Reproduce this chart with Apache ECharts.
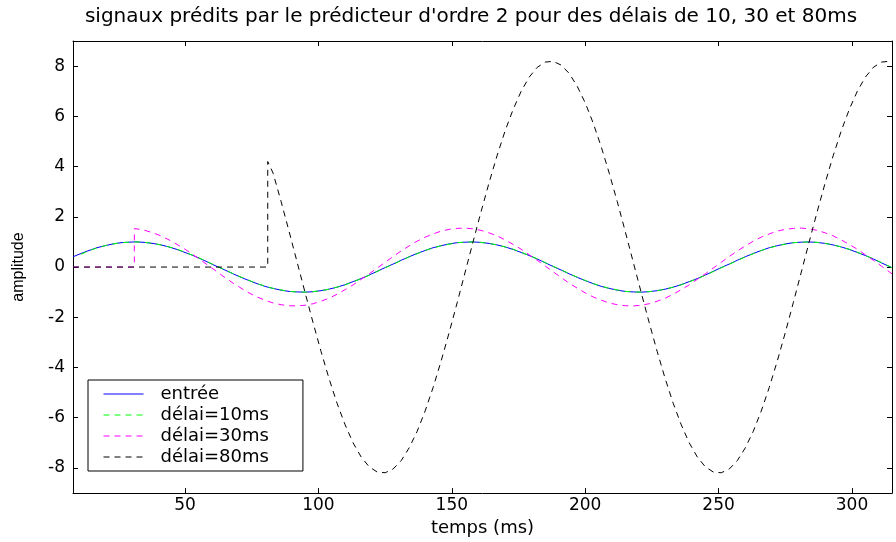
<!DOCTYPE html>
<html>
<head>
<meta charset="utf-8">
<script src="https://cdn.jsdelivr.net/npm/echarts@6/dist/echarts.min.js"></script>
<style>
html,body{margin:0;padding:0;background:#fff;}
#c{width:896px;height:542px;}
</style>
</head>
<body>
<div id="c"></div>
<script>
// ---- data ----
const titre = "signaux prédits par le prédicteur d'ordre 2 pour des délais de 10, 30 et 80ms";
const nomAxeX = 'temps (ms)';
const nomAxeY = 'amplitude';
const nomsSeries = ['entrée', 'délai=10ms', 'délai=30ms', 'délai=80ms'];

const xTicks = [50, 100, 150, 200, 250, 300];
const yTicks = [-8, -6, -4, -2, 0, 2, 4, 6, 8];

const temps = [
  8, 11, 14, 17, 20, 23, 26, 29,
  31, 31, 32,
  35, 38, 41, 44, 47, 50, 53, 56, 59, 62, 65, 68, 71, 74, 77, 80,
  81, 81,
  83, 86, 89, 92, 95, 98, 101, 104, 107, 110, 113, 116, 119, 122,
  125, 128, 131, 134, 137, 140, 143, 146, 149, 152, 155, 158,
  161, 164, 167, 170, 173, 176, 179, 182, 185, 188, 191, 194, 197, 200, 203, 206, 209, 212, 215, 218, 221,
  224, 227, 230, 233, 236, 239, 242, 245, 248, 251, 254, 257, 260, 263, 266, 269, 272, 275, 278, 281, 284,
  287, 290, 293, 296, 299, 302, 305, 308, 311, 314,
  315
];

const entree = [
  0.41, 0.54, 0.66, 0.77, 0.85, 0.92, 0.97, 0.99,
  1.00, 1.00, 1.00,
  0.98, 0.94, 0.88, 0.80, 0.70, 0.58, 0.46, 0.32, 0.17, 0.02, -0.12, -0.27, -0.41, -0.54, -0.66, -0.77,
  -0.80, -0.80,
  -0.85, -0.92, -0.97, -0.99, -1.00, -0.98, -0.94, -0.88, -0.80, -0.70, -0.58, -0.46, -0.32, -0.17,
  -0.02, 0.12, 0.27, 0.41, 0.54, 0.66, 0.77, 0.85, 0.92, 0.97, 0.99, 1.00,
  0.98, 0.94, 0.88, 0.80, 0.70, 0.58, 0.46, 0.32, 0.17, 0.02, -0.12, -0.27, -0.41, -0.54, -0.66, -0.77, -0.85, -0.92, -0.97, -0.99, -1.00,
  -0.98, -0.94, -0.88, -0.80, -0.70, -0.58, -0.46, -0.32, -0.17, -0.02, 0.12, 0.27, 0.41, 0.54, 0.66, 0.77, 0.85, 0.92, 0.97, 0.99, 1.00,
  0.98, 0.94, 0.88, 0.80, 0.70, 0.58, 0.46, 0.32, 0.17, 0.02,
  -0.02
];

const delai10 = [
  null, 0.51, 0.65, 0.76, 0.85, 0.92, 0.97, 0.99,
  1.00, 1.00, 1.00,
  0.98, 0.94, 0.88, 0.80, 0.71, 0.59, 0.46, 0.33, 0.18, 0.03, -0.11, -0.26, -0.40, -0.53, -0.66, -0.76,
  -0.79, -0.79,
  -0.85, -0.91, -0.97, -0.99, -1.00, -0.98, -0.94, -0.88, -0.80, -0.71, -0.59, -0.46, -0.33, -0.18,
  -0.03, 0.11, 0.26, 0.40, 0.53, 0.66, 0.76, 0.85, 0.91, 0.97, 0.99, 1.00,
  0.98, 0.94, 0.88, 0.80, 0.71, 0.59, 0.46, 0.33, 0.18, 0.03, -0.11, -0.26, -0.40, -0.53, -0.66, -0.76, -0.85, -0.91, -0.97, -0.99, -1.00,
  -0.98, -0.94, -0.88, -0.80, -0.71, -0.59, -0.46, -0.33, -0.18, -0.03, 0.11, 0.26, 0.40, 0.53, 0.66, 0.76, 0.85, 0.91, 0.97, 0.99, 1.00,
  0.98, 0.94, 0.88, 0.80, 0.71, 0.59, 0.46, 0.33, 0.18, 0.03,
  -0.03
];

const delai30 = [
  0, 0, 0, 0, 0, 0, 0, 0,
  0, 1.53, 1.52,
  1.46, 1.36, 1.24, 1.08, 0.90, 0.71, 0.49, 0.27, 0.04, -0.19, -0.42, -0.64, -0.84, -1.03, -1.19, -1.32,
  -1.36, -1.36,
  -1.43, -1.50, -1.54, -1.55, -1.52, -1.46, -1.36, -1.24, -1.08, -0.90, -0.71, -0.49, -0.27, -0.04,
  0.19, 0.42, 0.64, 0.84, 1.03, 1.19, 1.32, 1.43, 1.50, 1.54, 1.55, 1.52,
  1.46, 1.36, 1.24, 1.08, 0.90, 0.71, 0.49, 0.27, 0.04, -0.19, -0.42, -0.64, -0.84, -1.03, -1.19, -1.32, -1.43, -1.50, -1.54, -1.55, -1.52,
  -1.46, -1.36, -1.24, -1.08, -0.90, -0.71, -0.49, -0.27, -0.04, 0.19, 0.42, 0.64, 0.84, 1.03, 1.19, 1.32, 1.43, 1.50, 1.54, 1.55, 1.52,
  1.46, 1.36, 1.24, 1.08, 0.90, 0.71, 0.49, 0.27, 0.04, -0.19,
  -0.27
];

const delai80 = [
  0, 0, 0, 0, 0, 0, 0, 0,
  0, 0, 0,
  0, 0, 0, 0, 0, 0, 0, 0, 0, 0, 0, 0, 0, 0, 0, 0,
  0, 4.20,
  3.74, 2.61, 1.42, 0.20, -1.02, -2.22, -3.37, -4.45, -5.43, -6.28, -7.00, -7.56, -7.95, -8.16,
  -8.19, -8.04, -7.71, -7.20, -6.54, -5.73, -4.79, -3.74, -2.61, -1.42, -0.20, 1.02,
  2.22, 3.37, 4.45, 5.43, 6.28, 7.00, 7.56, 7.95, 8.16, 8.19, 8.04, 7.71, 7.20, 6.54, 5.73, 4.79, 3.74, 2.61, 1.42, 0.20, -1.02,
  -2.22, -3.37, -4.45, -5.43, -6.28, -7.00, -7.56, -7.95, -8.16, -8.19, -8.04, -7.71, -7.20, -6.54, -5.73, -4.79, -3.74, -2.61, -1.42, -0.20, 1.02,
  2.22, 3.37, 4.45, 5.43, 6.28, 7.00, 7.56, 7.95, 8.16, 8.19,
  8.18
];

// ---- chart ----
const FONT = "'DejaVu Sans', 'Liberation Sans', sans-serif";
const chart = echarts.init(document.getElementById('c'), null, { renderer: 'canvas' });

function paires(valeurs) {
  return temps.map(function (t, i) { return [t, valeurs[i]]; });
}

const noir = '#000000';
const axeCommun = {
  axisLine: { show: true, onZero: false, lineStyle: { color: noir, width: 1 } },
  splitLine: { show: false }
};

function serie(nom, valeurs, couleur, tiret) {
  return {
    type: 'line',
    name: nom,
    data: paires(valeurs),
    symbol: 'none',
    showSymbol: false,
    connectNulls: false,
    silent: true,
    itemStyle: { color: couleur },
    lineStyle: { color: couleur, width: 1, type: tiret, opacity: 1 }
  };
}

const option = {
  animation: false,
  backgroundColor: '#ffffff',
  title: {
    text: titre,
    left: 466,
    textAlign: 'center',
    top: 2,
    textStyle: { fontFamily: FONT, fontSize: 20, fontWeight: 'normal', color: noir }
  },
  grid: { left: 73, right: 4, top: 41, bottom: 48 },
  legend: {
    orient: 'vertical',
    left: 88,
    top: 380,
    backgroundColor: '#ffffff',
    borderColor: noir,
    borderWidth: 1,
    borderRadius: 0,
    padding: [5, 34, 5, 15],
    itemWidth: 40,
    itemHeight: 12,
    itemGap: 3,
    itemStyle: { color: 'rgba(0,0,0,0)', borderWidth: 0 },
    lineStyle: { width: 1, opacity: 1 },
    textStyle: { fontFamily: FONT, fontSize: 18, color: noir, padding: [0, 0, 0, 12] },
    data: nomsSeries
  },
  xAxis: [
    Object.assign({}, axeCommun, {
      type: 'value', min: 8, max: 315, position: 'bottom',
      axisTick: { show: true, inside: true, length: 5, customValues: xTicks, lineStyle: { color: noir } },
      axisLabel: { show: true, customValues: xTicks, color: noir, fontFamily: FONT, fontSize: 17, margin: 4 },
      name: nomAxeX, nameLocation: 'middle', nameGap: 24,
      nameTextStyle: { fontFamily: FONT, fontSize: 18, color: noir }
    }),
    Object.assign({}, axeCommun, {
      type: 'value', min: 8, max: 315, position: 'top',
      axisTick: { show: true, inside: true, length: 5, customValues: xTicks, lineStyle: { color: noir } },
      axisLabel: { show: false }
    })
  ],
  yAxis: [
    Object.assign({}, axeCommun, {
      type: 'value', min: -9, max: 9, position: 'left',
      axisTick: { show: true, inside: true, length: 5, customValues: yTicks, lineStyle: { color: noir } },
      axisLabel: { show: true, customValues: yTicks, color: noir, fontFamily: FONT, fontSize: 17, margin: 8 },
      name: nomAxeY, nameLocation: 'middle', nameGap: 46, nameRotate: 90,
      nameTextStyle: { fontFamily: "'Liberation Sans', sans-serif", fontSize: 16, color: noir }
    }),
    Object.assign({}, axeCommun, {
      type: 'value', min: -9, max: 9, position: 'right',
      axisTick: { show: true, inside: true, length: 5, customValues: yTicks, lineStyle: { color: noir } },
      axisLabel: { show: false }
    })
  ],
  series: [
    serie(nomsSeries[0], entree, '#0000ff', 'solid'),
    serie(nomsSeries[1], delai10, '#00ff00', [6, 5]),
    serie(nomsSeries[2], delai30, '#ff00ff', [6, 5]),
    serie(nomsSeries[3], delai80, '#000000', [6, 5])
  ]
};

chart.setOption(option);
</script>
</body>
</html>
